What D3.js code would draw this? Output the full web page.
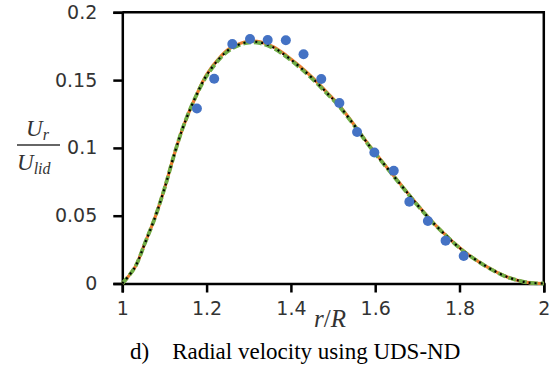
<!DOCTYPE html>
<html>
<head>
<meta charset="utf-8">
<script src="https://cdn.jsdelivr.net/npm/d3@7"></script>
<style>
  body { margin: 0; background: #fff; }
  svg { display: block; }
  .tick text { font-family: "DejaVu Sans", sans-serif; font-size: 19px; fill: #333; }
  .math { font-family: "Liberation Serif", serif; font-style: italic; fill: #333; }
</style>
</head>
<body>
<div id="chart"></div>
<script>
//Chart data
const rGrid = [1.00, 1.03, 1.054, 1.078, 1.101, 1.125, 1.145, 1.173, 1.200, 1.232, 1.256, 1.296, 1.327, 1.359, 1.390, 1.422, 1.454, 1.493, 1.513, 1.549, 1.588, 1.636, 1.683, 1.715, 1.739, 1.767, 1.790, 1.818, 1.846, 1.873, 1.905, 1.937, 1.968, 2.00];
const uOrange = [0, 0.012, 0.030, 0.049, 0.071, 0.097, 0.116, 0.137, 0.154, 0.167, 0.1735, 0.1785, 0.1782, 0.1745, 0.168, 0.160, 0.151, 0.1385, 0.132, 0.1175, 0.101, 0.0825, 0.0645, 0.0527, 0.0444, 0.0358, 0.0291, 0.0220, 0.0160, 0.0109, 0.0059, 0.0024, 0.0005, 0];
const uGreen  = [0, 0.012, 0.030, 0.049, 0.071, 0.097, 0.116, 0.137, 0.153, 0.166, 0.1725, 0.1775, 0.1772, 0.1735, 0.167, 0.159, 0.150, 0.1377, 0.1313, 0.1170, 0.1006, 0.0821, 0.0641, 0.0524, 0.0441, 0.0356, 0.0289, 0.0218, 0.0159, 0.0108, 0.0058, 0.0024, 0.0005, 0];
const uBlack  = [0, 0.012, 0.030, 0.049, 0.071, 0.097, 0.116, 0.137, 0.1535, 0.1665, 0.173, 0.178, 0.1778, 0.174, 0.1675, 0.1595, 0.1505, 0.1381, 0.1317, 0.1173, 0.1008, 0.0823, 0.0643, 0.0526, 0.0443, 0.0357, 0.0290, 0.0219, 0.0160, 0.0109, 0.0059, 0.0024, 0.0005, 0];

//Measured points
const rPts = [1.177, 1.218, 1.261, 1.303, 1.345, 1.388, 1.430, 1.472, 1.515, 1.557, 1.598, 1.644, 1.681, 1.725, 1.767, 1.810];
const uPts = [0.129, 0.151, 0.1766, 0.1803, 0.1796, 0.1794, 0.169, 0.1508, 0.1331, 0.1117, 0.0966, 0.0832, 0.0603, 0.0461, 0.0316, 0.0203];

const xTicks = [1, 1.2, 1.4, 1.6, 1.8, 2];
const yTicks = [0, 0.05, 0.1, 0.15, 0.2];

//Size
const w = 560, h = 375;
const margin = {left: 122.3, right: 16.2, top: 12.3, bottom: 91.5};

const svg = d3.select("#chart").append("svg")
  .attr("width", w)
  .attr("height", h);

const x = d3.scaleLinear().domain([1, 2]).range([margin.left, w - margin.right]);
const y = d3.scaleLinear().domain([0, 0.2]).range([h - margin.bottom, margin.top]);

//Plot frame (top and right)
svg.append("path")
  .attr("d", `M${x(1)},${y(0.2)}H${x(2)}V${y(0)}`)
  .attr("fill", "none")
  .attr("stroke", "#000")
  .attr("stroke-width", 2.5);

//Axes
const xAxis = svg.append("g")
  .attr("transform", `translate(0,${y(0)})`)
  .call(d3.axisBottom(x).tickValues(xTicks).tickSize(9).tickPadding(9).tickFormat(d3.format("")));

const yAxis = svg.append("g")
  .attr("transform", `translate(${x(1)},0)`)
  .call(d3.axisLeft(y).tickValues(yTicks).tickSize(9).tickPadding(16).tickFormat(d3.format("")));

[xAxis, yAxis].forEach(a => {
  a.select(".domain").attr("stroke", "#000").attr("stroke-width", 2.5);
  a.selectAll(".tick line").attr("stroke", "#000").attr("stroke-width", 2.5);
  a.selectAll(".tick text").attr("font-family", null).attr("font-size", null);
});
xAxis.selectAll(".tick text").attr("dy", "0.71em");

//Lines
const line = series => d3.line()
  .x((d, i) => x(rGrid[i]))
  .y(d => y(d))
  .curve(d3.curveCatmullRom)(series);

svg.append("path").attr("d", line(uOrange))
  .attr("fill", "none").attr("stroke", "#ED7D31").attr("stroke-width", 3.2);

svg.append("path").attr("d", line(uGreen))
  .attr("fill", "none").attr("stroke", "#70AD47").attr("stroke-width", 3.8)
  .attr("stroke-dasharray", "8,3");

svg.append("path").attr("d", line(uBlack))
  .attr("fill", "none").attr("stroke", "#000").attr("stroke-width", 2.2)
  .attr("stroke-dasharray", "2,4");

//Points
svg.append("g")
  .selectAll("circle")
  .data(rPts)
  .enter()
  .append("circle")
  .attr("cx", d => x(d))
  .attr("cy", (d, i) => y(uPts[i]))
  .attr("r", 5)
  .attr("fill", "#4472C4");

//Axis labels
const xl = svg.append("text").attr("class", "math")
  .attr("x", 330).attr("y", 327).attr("text-anchor", "middle")
  .attr("font-size", 25);
xl.append("tspan").text("r");
xl.append("tspan").attr("font-style", "normal").text("/");
xl.append("tspan").text("R");

const yNum = svg.append("text").attr("class", "math").attr("x", 26).attr("y", 136).attr("font-size", 23);
yNum.append("tspan").text("U");
yNum.append("tspan").attr("font-size", 16).attr("dy", 4).text("r");

svg.append("line")
  .attr("x1", 17).attr("x2", 60).attr("y1", 145).attr("y2", 145)
  .attr("stroke", "#333").attr("stroke-width", 1.5);

const yDen = svg.append("text").attr("class", "math").attr("x", 17).attr("y", 170).attr("font-size", 23);
yDen.append("tspan").text("U");
yDen.append("tspan").attr("font-size", 16).attr("dy", 4).text("lid");

//Caption
svg.append("text")
  .attr("x", 130).attr("y", 359)
  .attr("font-family", "Liberation Serif, serif")
  .attr("font-size", 23)
  .attr("fill", "#000")
  .attr("xml:space", "preserve")
  .text("d)    Radial velocity using UDS-ND");
</script>
</body>
</html>
